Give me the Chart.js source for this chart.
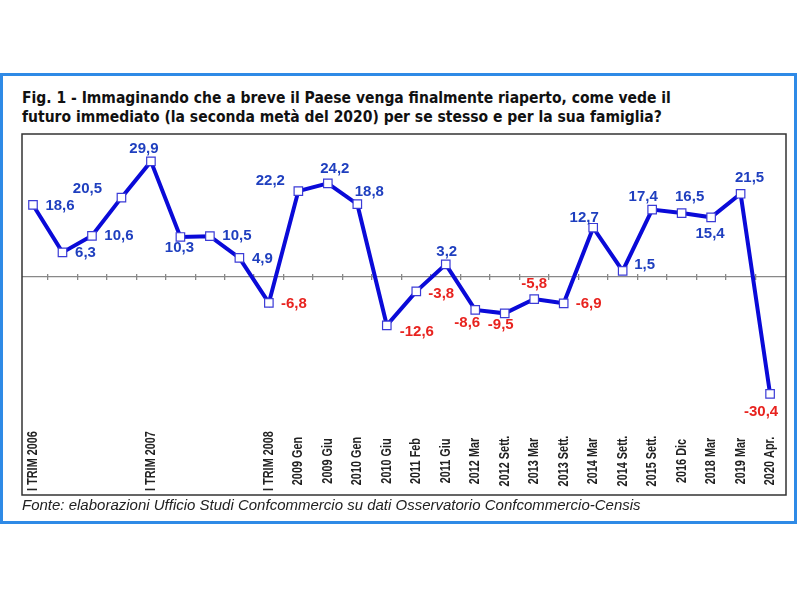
<!DOCTYPE html>
<html>
<head>
<meta charset="utf-8">
<script src="https://cdn.jsdelivr.net/npm/chart.js@4"></script>
<style>
  html, body { margin: 0; padding: 0; background: #fff; }
  #wrap { position: relative; width: 800px; height: 600px; overflow: hidden; }
  #frame {
    position: absolute; left: 0; top: 73px; width: 791px; height: 445px;
    border: 3px solid #2f8ae6;
  }
  #title {
    position: absolute; left: 22px; top: 89px; width: 780px;
    font-family: "DejaVu Sans", Verdana, sans-serif; font-weight: bold;
    font-stretch: condensed; font-size: 15.5px; line-height: 19px; color: #111;
    white-space: nowrap;
  }
  #source {
    position: absolute; left: 22px; top: 496px;
    font-family: "Liberation Sans", Arial, sans-serif; font-style: italic;
    font-size: 15px; color: #222; white-space: nowrap;
  }
  canvas { position: absolute; left: 0; top: 0; }
</style>
</head>
<body>
<div id="wrap">
  <div id="frame"></div>
  <div id="title">Fig. 1 - Immaginando che a breve il Paese venga finalmente riaperto, come vede il<br>futuro immediato (la seconda metà del 2020) per se stesso e per la sua famiglia?</div>
  <canvas id="chart" width="800" height="600"></canvas>
  <div id="source">Fonte: elaborazioni Ufficio Studi Confcommercio su dati Osservatorio Confcommercio-Censis</div>
</div>
<script>
// ── data ─────────────────────────────
const periods = [
  "I TRIM 2006", "", "", "", "I TRIM 2007", "", "", "", "I TRIM 2008",
  "2009 Gen", "2009 Giu", "2010 Gen", "2010 Giu", "2011 Feb", "2011 Giu",
  "2012 Mar", "2012 Sett.", "2013 Mar", "2013 Sett.", "2014 Mar", "2014 Sett.",
  "2015 Sett.", "2016 Dic", "2018 Mar", "2019 Mar", "2020 Apr."
];
const saldo = [
  18.6, 6.3, 10.6, 20.5, 29.9, 10.3, 10.5, 4.9, -6.8,
  22.2, 24.2, 18.8, -12.6, -3.8, 3.2, -8.6, -9.5, -5.8, -6.9,
  12.7, 1.5, 17.4, 16.5, 15.4, 21.5, -30.4
];
// where each value label sits, relative to its point (dx, dy)
const labelOffsets = [
  [27, 1], [23, 0], [27, 0], [-34, -9], [-7, -13], [-1, 11], [27, 0], [23, 1], [25, 1],
  [-28, -10], [7, -15], [12, -12], [30, 7], [25, 3], [1, -13], [-8, 13], [-4, 12], [0, -15], [25, 1],
  [-9, -10], [22, -6], [-9, -13], [8, -16], [-1, 17], [9, -16], [-9, 18]
];

const X_MIN = -0.373;
const X_MAX = 25.54;
const BLUE_TXT = "#1f3fbf";
const RED_TXT = "#e8231f";

const fmt = (v) => v.toFixed(1).replace(".", ",");

// ── plugin: box, value labels, period labels ─────────────────────
const decor = {
  id: "decor",
  afterDatasetsDraw(chart) {
    const { ctx } = chart;
    const meta = chart.getDatasetMeta(0);
    ctx.save();
    ctx.font = "bold 15px 'Liberation Sans', Arial, sans-serif";
    ctx.textAlign = "center";
    ctx.textBaseline = "middle";
    meta.data.forEach((pt, i) => {
      const v = saldo[i];
      const [dx, dy] = labelOffsets[i];
      ctx.fillStyle = v < 0 ? RED_TXT : BLUE_TXT;
      ctx.fillText(fmt(v), pt.x + dx, pt.y + dy);
    });
    ctx.restore();
  },
  afterDraw(chart) {
    const { ctx, chartArea } = chart;
    const xs = chart.scales.x;
    ctx.save();
    // period labels, vertical, narrow
    ctx.font = "bold 14.5px 'Liberation Sans', Arial, sans-serif";
    ctx.fillStyle = "#222";
    ctx.textAlign = "center";
    ctx.textBaseline = "middle";
    periods.forEach((p, i) => {
      if (!p) return;
      ctx.save();
      ctx.translate(xs.getPixelForValue(i), 461);
      ctx.rotate(-Math.PI / 2);
      ctx.scale(0.75, 1);
      ctx.fillText(p, 0, 0);
      ctx.restore();
    });
    // plot box
    ctx.strokeStyle = "#333";
    ctx.lineWidth = 1.5;
    ctx.strokeRect(chartArea.left, chartArea.top, chartArea.right - chartArea.left, chartArea.bottom - chartArea.top);
    ctx.restore();
  }
};

const boundaries = saldo.slice(1).map((_, i) => i + 0.5);

new Chart(document.getElementById("chart"), {
  type: "line",
  data: {
    datasets: [
      {
        data: saldo.map((v, i) => ({ x: i, y: v })),
        borderColor: "#0a0ad8",
        borderWidth: 4,
        tension: 0,
        pointStyle: "rect",
        pointRadius: 6,
        pointBackgroundColor: "#fff",
        pointBorderColor: "#3b3bd6",
        pointBorderWidth: 1.2,
        xAxisID: "x",
        yAxisID: "y",
      },
    ],
  },
  options: {
    responsive: false,
    animation: false,
    devicePixelRatio: 1,
    layout: { padding: { left: 22, top: 134, right: 14, bottom: 105 } },
    plugins: { legend: { display: false }, tooltip: { enabled: false } },
    scales: {
      x: { type: "linear", min: X_MIN, max: X_MAX, display: false },
      x2: {
        type: "linear",
        min: X_MIN,
        max: X_MAX,
        position: { y: 0.78 },
        afterBuildTicks: (s) => { s.ticks = boundaries.map((v) => ({ value: v })); },
        ticks: { display: false },
        grid: { drawOnChartArea: false, drawTicks: true, tickLength: 6, color: "#888", lineWidth: 1.3 },
        border: { display: false },
      },
      y: {
        type: "linear",
        min: -56.6,
        max: 37.0,
        afterBuildTicks: (s) => { s.ticks = [{ value: 0 }]; },
        ticks: { display: false },
        grid: { drawTicks: false, color: "#888", lineWidth: 1.3 },
        border: { display: false },
      },
    },
  },
  plugins: [decor],
});
</script>
</body>
</html>
